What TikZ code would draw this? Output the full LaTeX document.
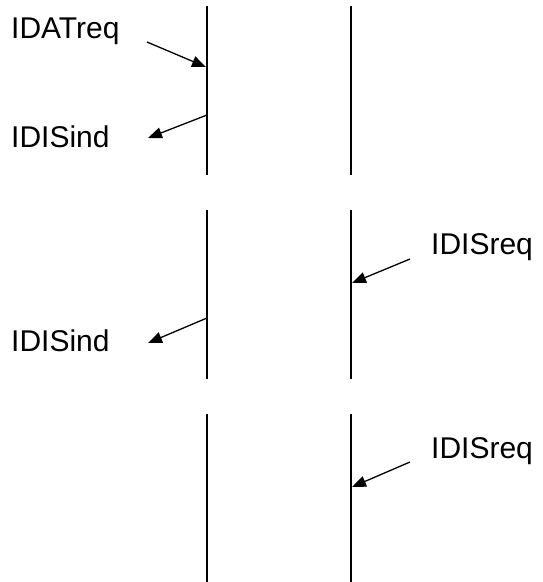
\documentclass[tikz,border=0pt]{standalone}
\usepackage{fontspec}
\setmainfont{Liberation Sans}
\usetikzlibrary{arrows.meta}
\begin{document}
\begin{tikzpicture}[x=1pt,y=-1pt,
  lifeline/.style={line width=2pt},
  msg/.style={line width=1.3pt,-{Triangle[length=14pt,width=11pt]}},
  lbl/.style={inner sep=0pt,anchor=base west,font=\fontsize{30}{32}\selectfont}]
\useasboundingbox (0,0) rectangle (543,582);
% lifelines
\coordinate (a1t) at (207,6);   \coordinate (a1b) at (207,175);
\coordinate (b1t) at (351,6);   \coordinate (b1b) at (351,175);
\coordinate (a2t) at (207,210); \coordinate (a2b) at (207,379);
\coordinate (b2t) at (351,210); \coordinate (b2b) at (351,379);
\coordinate (a3t) at (207,414); \coordinate (a3b) at (207,582);
\coordinate (b3t) at (351,414); \coordinate (b3b) at (351,582);
\draw[lifeline] (a1t) -- (a1b);
\draw[lifeline] (b1t) -- (b1b);
\draw[lifeline] (a2t) -- (a2b);
\draw[lifeline] (b2t) -- (b2b);
\draw[lifeline] (a3t) -- (a3b);
\draw[lifeline] (b3t) -- (b3b);
% labels
\node[lbl] (l1) at (11,38) {IDATreq};
\node[lbl] (l2) at (11,147) {IDISind};
\node[lbl] (l3) at (431,254) {IDISreq};
\node[lbl] (l4) at (11,351) {IDISind};
\node[lbl] (l5) at (431,458) {IDISreq};
% message endpoints
\coordinate (m1s) at (147,42);  \coordinate (m1e) at (206,67);
\coordinate (m2s) at (207,115); \coordinate (m2e) at (148,138);
\coordinate (m3s) at (410,259); \coordinate (m3e) at (352,283);
\coordinate (m4s) at (207,318); \coordinate (m4e) at (148,343);
\coordinate (m5s) at (410,462); \coordinate (m5e) at (352,487);
\draw[msg] (m1s) -- (m1e);
\draw[msg] (m2s) -- (m2e);
\draw[msg] (m3s) -- (m3e);
\draw[msg] (m4s) -- (m4e);
\draw[msg] (m5s) -- (m5e);
\end{tikzpicture}
\end{document}
